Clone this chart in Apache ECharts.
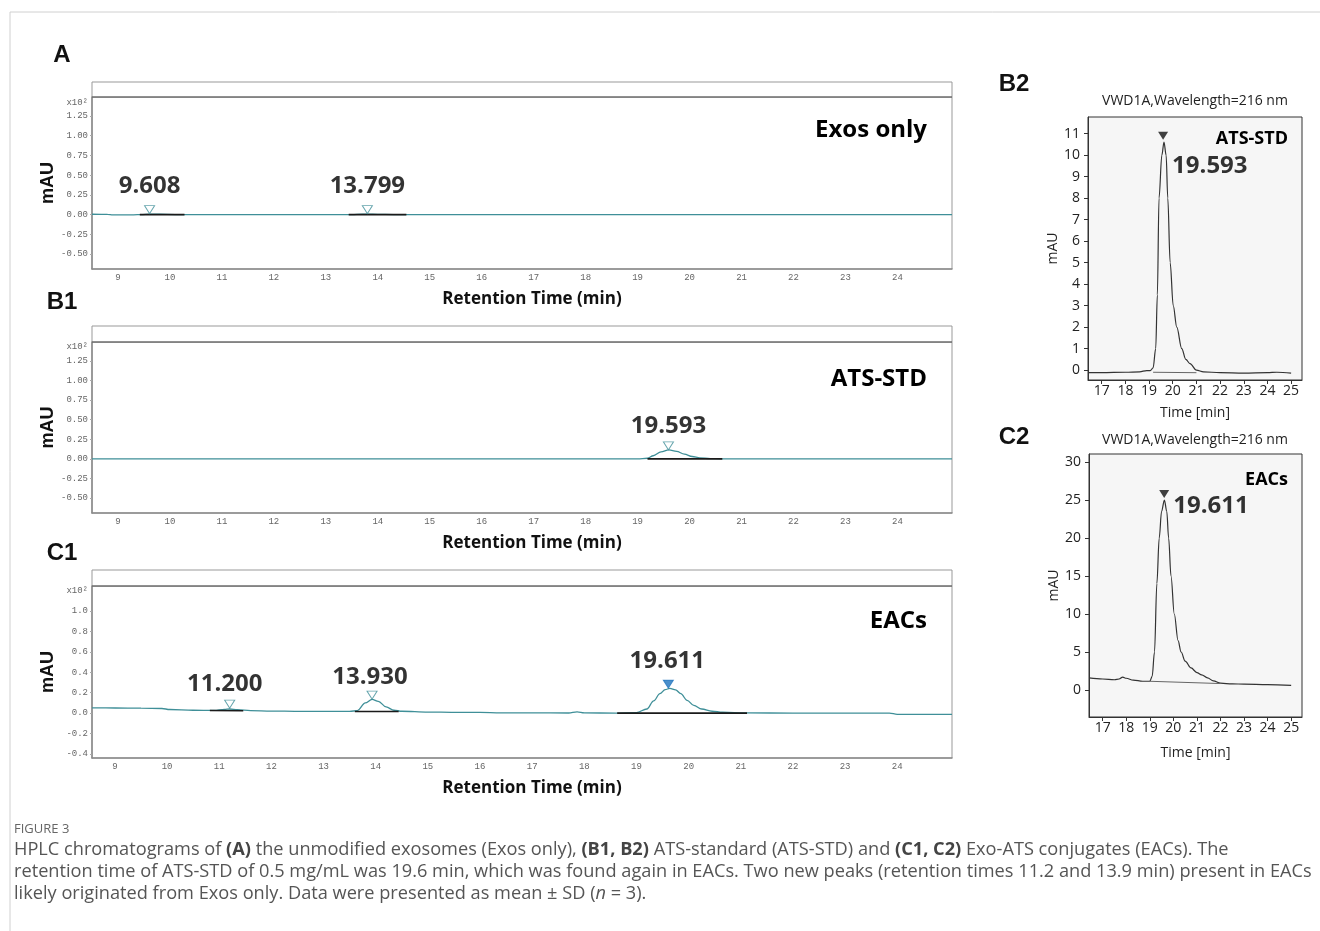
<!DOCTYPE html>
<html><head><meta charset="utf-8">
<script src="https://cdn.jsdelivr.net/npm/echarts@6/dist/echarts.min.js"></script>
<style>html,body{margin:0;padding:0;background:#fff}#c{width:1320px;height:931px}</style>
</head><body><div id="c"></div>
<script>
// ---------------- DATA ----------------
const X_TICKS_LEFT = [9,10,11,12,13,14,15,16,17,18,19,20,21,22,23,24];
const Y_TICKS_AB1 = [-0.5,-0.25,0,0.25,0.5,0.75,1,1.25];
const Y_TICKS_C1 = [-0.4,-0.2,0,0.2,0.4,0.6,0.8,1.0];
const X_TICKS_RIGHT = [17,18,19,20,21,22,23,24,25];
const Y_TICKS_B2 = [0,1,2,3,4,5,6,7,8,9,10,11];
const Y_TICKS_C2 = [0,5,10,15,20,25,30];

// Panel A (x10^2 mAU)
const traceA = [[8.5,0.004],[8.8,0.003],[8.9,-0.004],[9.3,-0.003],[9.45,0.0],[9.6,0.006],[9.8,0.004],[10.1,0.0],[10.3,-0.002],[11,-0.002],[12,-0.002],[13,-0.002],[13.5,-0.001],[13.7,0.004],[13.8,0.006],[14.0,0.003],[14.3,0.0],[14.6,-0.001],[16,-0.001],[18,-0.001],[20,-0.001],[22,-0.001],[24,-0.001],[25.05,-0.001]];
const baseA = [[[9.42,-0.002],[10.28,-0.002]],[[13.44,-0.002],[14.55,-0.002]]];
const peaksA = [[9.608,0.063],[13.799,0.063]];

// Panel B1
const traceB1 = [[8.5,0],[12,0],[16,0],[18,0],[19.0,0.0],[19.19,0.008],[19.3,0.04],[19.45,0.09],[19.6,0.115],[19.75,0.095],[19.9,0.06],[20.05,0.03],[20.2,0.012],[20.4,0.004],[20.6,0.0],[21,0],[25.05,0]];
const baseB1 = [[[19.19,0],[20.63,0]]];
const peaksB1 = [[19.593,0.166]];

// Panel C1
const traceC1 = [[8.56,0.052],[9.0,0.05],[9.5,0.048],[9.9,0.045],[10.05,0.035],[10.5,0.028],[10.9,0.026],[11.1,0.036],[11.2,0.04],[11.35,0.034],[11.6,0.025],[12.0,0.02],[12.5,0.017],[13.0,0.016],[13.5,0.016],[13.65,0.025],[13.8,0.1],[13.93,0.134],[14.05,0.115],[14.2,0.06],[14.35,0.028],[14.5,0.018],[15,0.01],[15.5,0.007],[16.0,0.006],[16.4,0.002],[17,0.002],[17.7,0.001],[17.86,0.012],[18.0,0.002],[18.6,0.0],[19.0,0.005],[19.2,0.04],[19.33,0.12],[19.45,0.19],[19.55,0.23],[19.64,0.242],[19.75,0.228],[19.85,0.19],[19.97,0.125],[20.1,0.075],[20.25,0.04],[20.45,0.018],[20.65,0.008],[21.1,0.002],[22,0.0],[23,0.0],[23.85,0.0],[24.0,-0.012],[24.5,-0.013],[25.05,-0.013]];
const baseC1 = [[[10.82,0.026],[11.46,0.023]],[[13.6,0.016],[14.44,0.016]],[[18.63,0.0],[21.12,0.0]]];
const peaksC1 = [[11.200,0.088],[13.930,0.176],[19.611,0.284]];

// Panel B2 (mAU)
const traceB2 = [[16.42,-0.12],[17,-0.12],[18,-0.1],[18.6,-0.08],[18.9,-0.02],[19.05,-0.02],[19.17,0.1],[19.28,1.0],[19.35,3.5],[19.42,8.0],[19.54,10.0],[19.63,10.6],[19.72,10.0],[19.79,8.0],[19.89,5.0],[20.02,3.0],[20.17,2.0],[20.38,1.0],[20.55,0.5],[20.73,0.3],[21.0,0.0],[21.3,-0.08],[22,-0.12],[23,-0.14],[24,-0.12],[24.4,-0.1],[25,-0.14]];
const baseB2 = [[[19.17,-0.1],[21.0,-0.12]]];
const peaksB2 = [[19.593,10.9]];

// Panel C2 (mAU)
const traceC2 = [[16.42,1.6],[17.0,1.45],[17.5,1.35],[17.7,1.45],[17.85,1.7],[18.0,1.55],[18.3,1.3],[18.7,1.15],[19.0,1.15],[19.1,1.8],[19.2,5],[19.3,14],[19.4,20],[19.5,23.5],[19.62,25.0],[19.72,23.5],[19.8,20],[19.9,15],[20.04,10],[20.2,6.5],[20.33,5],[20.5,3.8],[20.75,2.9],[21.0,2.3],[21.2,2.0],[21.45,1.6],[21.7,1.2],[22.0,0.9],[22.5,0.8],[23,0.78],[24,0.7],[25,0.62]];
const baseC2 = [[[19.0,1.15],[22.0,0.85]]];
const peaksC2 = [[19.611,25.8]];

// ---------------- LAYOUT / STYLE ----------------
const TEAL = '#3f8f98';
const NUMFONT = {fontFamily:'Open Sans', fontWeight:'bold', fontSize:24, color:'#000'};
const labLayoutA = [{d:7,dx:0},{d:7,dx:0}];
const labLayoutB1 = [{d:3,dx:0}];
const labLayoutC1 = [{d:3,dx:-5},{d:2,dx:-2},{d:6,dx:-1}];

const grids = [
  {left:92, top:97, width:860, height:172, show:true, borderColor:'#999', borderWidth:1},
  {left:92, top:342, width:860, height:171, show:true, borderColor:'#999', borderWidth:1},
  {left:92, top:586, width:860, height:172, show:true, borderColor:'#999', borderWidth:1},
  {left:1088, top:117, width:214, height:263, show:true, backgroundColor:'#f6f6f6', borderColor:'#333', borderWidth:1},
  {left:1089, top:454, width:213, height:263, show:true, backgroundColor:'#f6f6f6', borderColor:'#333', borderWidth:1}
];

function leftX(gi, min){
  return {type:'value', gridIndex:gi, min:min, max:25.05,
    name:'Retention Time (min)', nameLocation:'middle', nameGap:22, nameMoveOverlap:false,
    nameTextStyle:{fontFamily:'Open Sans', fontWeight:'bold', fontSize:17, color:'#111', padding:[0,0,0,20]},
    axisLine:{show:true, onZero:false, lineStyle:{color:'#8a8a8a', width:1.5}},
    axisTick:{show:false},
    axisLabel:{customValues:X_TICKS_LEFT, fontFamily:'Liberation Mono', fontSize:9, color:'#666', margin:4},
    splitLine:{show:false}};
}
function leftY(gi, min, max, ticks, dec){
  return {type:'value', gridIndex:gi, min:min, max:max,
    name:'mAU', nameLocation:'middle', nameGap:35, nameMoveOverlap:false,
    nameTextStyle:{fontFamily:'Liberation Sans', fontWeight:'bold', fontSize:18, color:'#111'},
    axisLine:{show:true, onZero:false, lineStyle:{color:'#8a8a8a', width:1.5}},
    axisTick:{show:true, length:2, customValues:ticks, lineStyle:{color:'#aaa'}},
    axisLabel:{customValues:ticks, formatter:v=>Number(v).toFixed(dec), fontFamily:'Liberation Mono', fontSize:9, color:'#666', margin:4},
    splitLine:{show:false}};
}
function rightX(gi, gap){
  return {type:'value', gridIndex:gi, min:16.42, max:25.46,
    name:'Time [min]', nameLocation:'middle', nameGap:gap,
    nameTextStyle:{fontFamily:'Open Sans', fontSize:14, color:'#222'},
    axisLine:{show:true, onZero:false, lineStyle:{color:'#333'}},
    axisTick:{show:true, length:4, customValues:X_TICKS_RIGHT, lineStyle:{color:'#333'}},
    axisLabel:{customValues:X_TICKS_RIGHT, fontFamily:'Open Sans', fontSize:14, color:'#222', margin:4},
    splitLine:{show:false}};
}
function rightY(gi, min, max, ticks){
  return {type:'value', gridIndex:gi, min:min, max:max,
    name:'mAU', nameLocation:'middle', nameGap:28,
    nameTextStyle:{fontFamily:'Open Sans', fontSize:14, color:'#222'},
    axisLine:{show:true, onZero:false, lineStyle:{color:'#333'}},
    axisTick:{show:true, length:4, customValues:ticks, lineStyle:{color:'#333'}},
    axisLabel:{customValues:ticks, fontFamily:'Open Sans', fontSize:14, color:'#222', margin:8},
    splitLine:{show:false}};
}

const series = [];
function addTrace(gi, data, color, width){
  series.push({type:'line', xAxisIndex:gi, yAxisIndex:gi, data:data, showSymbol:false,
    smooth:0.35, smoothMonotone:'x', lineStyle:{color:color, width:width}, silent:true, z:3});
}
function addBase(gi, segs, color, width){
  segs.forEach(s=>series.push({type:'line', xAxisIndex:gi, yAxisIndex:gi, data:s, showSymbol:false,
    lineStyle:{color:color, width:width}, silent:true, z:4}));
}
function addLeftPeaks(gi, peaks, layout, filledIdx){
  series.push({type:'scatter', xAxisIndex:gi, yAxisIndex:gi, z:6, silent:true,
    symbol:'triangle', symbolRotate:180, symbolSize:[10,8],
    data: peaks.map((p,i)=>({value:p,
      itemStyle: (filledIdx===i) ? {color:'#1e73be', borderColor:'#1e73be', borderWidth:1}
                                 : {color:'#fff', borderColor:TEAL, borderWidth:1},
      label:{show:true, position:'top', distance:layout[i].d, offset:[layout[i].dx,0],
        formatter:p[0].toFixed(3), ...NUMFONT}}))
  });
}
function addRightPeak(gi, peaks, dy){
  series.push({type:'scatter', xAxisIndex:gi, yAxisIndex:gi, z:6, silent:true,
    symbol:'triangle', symbolRotate:180, symbolSize:[10,8], itemStyle:{color:'#111'},
    data: peaks.map(p=>({value:p,
      label:{show:true, position:'right', distance:4, offset:[0,dy], formatter:p[0].toFixed(3), ...NUMFONT}}))
  });
}

addTrace(0, traceA, TEAL, 1.3); addBase(0, baseA, '#1a1a1a', 1.8); addLeftPeaks(0, peaksA, labLayoutA, -1);
addTrace(1, traceB1, TEAL, 1.3); addBase(1, baseB1, '#1a1a1a', 1.8); addLeftPeaks(1, peaksB1, labLayoutB1, -1);
addTrace(2, traceC1, TEAL, 1.3); addBase(2, baseC1, '#1a1a1a', 1.6); addLeftPeaks(2, peaksC1, labLayoutC1, 2);
addBase(3, baseB2, '#666', 1); addTrace(3, traceB2, '#333', 1.2); addRightPeak(3, peaksB2, 30);
addBase(4, baseC2, '#666', 1); addTrace(4, traceC2, '#333', 1.2); addRightPeak(4, peaksC2, 12);

// ---------------- STATIC TEXT / FRAMES ----------------
const G = [];
function txt(x, y, text, font, fill, align, extra){
  G.push(Object.assign({type:'text', x:x, y:y, silent:true, z:10,
    style:{text:text, font:font, fill:fill, textAlign:align||'left', textVerticalAlign:'middle'}}, extra||{}));
}
function line(x1,y1,x2,y2,stroke,w){
  G.push({type:'line', silent:true, z:5, shape:{x1,y1,x2,y2}, style:{stroke:stroke, lineWidth:w}});
}
// page frame
line(10,12,1320,12,'#d0d0d0',1);
line(10,12,10,931,'#d0d0d0',1);
// header strips of the left chromatograms
[[82,97],[326,342],[570,586]].forEach(([t,b])=>{
  G.push({type:'rect', silent:true, z:1, shape:{x:92, y:t, width:860, height:b-t}, style:{fill:'#fff', stroke:'#999', lineWidth:1}});
  line(92,b,952,b,'#555',1.2);
});
// x10^2 markers
[103,347,591].forEach(y=>txt(88,y,'x10²','9px "Liberation Mono"','#666','right'));
// panel letters
const LETTER = 'bold 24px "Liberation Sans"';
txt(62,55,'A',LETTER,'#111','center');
txt(62,302,'B1',LETTER,'#111','center');
txt(62,553,'C1',LETTER,'#111','center');
txt(1014,84,'B2',LETTER,'#111','center');
txt(1014,437,'C2',LETTER,'#111','center');
// sample names
const SAMPLE = 'bold 24px "Open Sans"';
txt(927,130,'Exos only',SAMPLE,'#000','right');
txt(927,379,'ATS-STD',SAMPLE,'#000','right');
txt(927,621,'EACs',SAMPLE,'#000','right');
txt(1288,139,'ATS-STD','bold 18px "Open Sans"','#000','right');
txt(1288,480,'EACs','bold 18px "Open Sans"','#000','right');
txt(1195,101,'VWD1A,Wavelength=216 nm','14px "Open Sans"','#222','center');
txt(1195,440,'VWD1A,Wavelength=216 nm','14px "Open Sans"','#222','center');
// caption
txt(14,829,'FIGURE 3','13px "Open Sans"','#666','left');
const CAP = ['HPLC chromatograms of {b|(A)} the unmodified exosomes (Exos only), {b|(B1, B2)} ATS-standard (ATS-STD) and {b|(C1, C2)} Exo-ATS conjugates (EACs). The',
  'retention time of ATS-STD of 0.5 mg/mL was 19.6 min, which was found again in EACs. Two new peaks (retention times 11.2 and 13.9 min) present in EACs',
  'likely originated from Exos only. Data were presented as mean ± SD ({i|n} = 3).'];
const capY = [850,872,894];
const CAPSIZE = 18.2;
CAP.forEach((t,i)=>G.push({type:'text', x:14, y:capY[i], silent:true, z:10,
  style:{text:t, fontFamily:'Open Sans', fontSize:CAPSIZE, fill:'#555', textAlign:'left', textVerticalAlign:'middle',
    rich:{b:{fontFamily:'Open Sans', fontSize:CAPSIZE, fontWeight:'bold', fill:'#444'},
          i:{fontFamily:'Open Sans', fontSize:CAPSIZE, fontStyle:'italic', fill:'#555'}}}}));

const option = {
  animation:false,
  backgroundColor:'#fff',
  grid: grids,
  xAxis: [leftX(0,8.5), leftX(1,8.5), leftX(2,8.56), rightX(3,26), rightX(4,29)],
  yAxis: [leftY(0,-0.69,1.49,Y_TICKS_AB1,2), leftY(1,-0.69,1.49,Y_TICKS_AB1,2), leftY(2,-0.44,1.245,Y_TICKS_C1,1),
          rightY(3,-0.46,11.77,Y_TICKS_B2), rightY(4,-3.55,31.05,Y_TICKS_C2)],
  series: series,
  graphic: G
};
const chart = echarts.init(document.getElementById('c'));
chart.setOption(option);
</script></body></html>
